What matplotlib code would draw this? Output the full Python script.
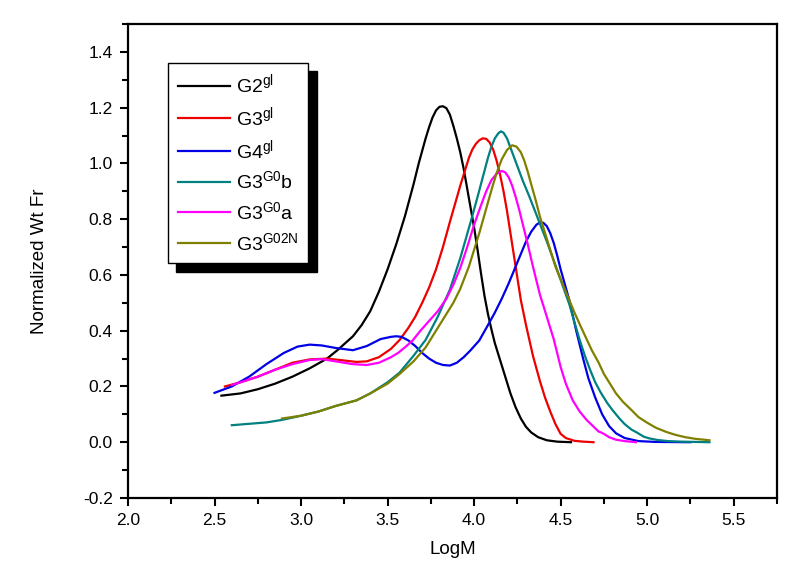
import matplotlib
matplotlib.use("Agg")
import matplotlib.pyplot as plt
from matplotlib.ticker import MultipleLocator

plt.rcParams["font.family"] = ["Liberation Sans", "DejaVu Sans"]
plt.rcParams["mathtext.fontset"] = "custom"
plt.rcParams["mathtext.rm"] = "Liberation Sans"
plt.rcParams["mathtext.default"] = "regular"
plt.rcParams["axes.unicode_minus"] = False

# ── data (LogM, normalized wt fraction) ────────────────────────────────────
g2_x = [2.54, 2.65, 2.75, 2.85, 2.95, 3.05, 3.15, 3.21, 3.30, 3.35, 3.40, 3.45,
        3.50, 3.55, 3.60, 3.65, 3.68, 3.70, 3.72, 3.74, 3.76, 3.78, 3.80, 3.82,
        3.84, 3.86, 3.88, 3.90, 3.92, 3.94, 3.96, 3.98, 4.00, 4.02, 4.04, 4.06,
        4.08, 4.10, 4.12, 4.15, 4.18, 4.21, 4.24, 4.27, 4.30, 4.33, 4.37, 4.42,
        4.48, 4.56]
g2_y = [0.167, 0.175, 0.19, 0.21, 0.235, 0.265, 0.30, 0.33, 0.38, 0.42, 0.47, 0.54,
        0.62, 0.71, 0.81, 0.925, 1.00, 1.045, 1.09, 1.13, 1.165, 1.19, 1.203, 1.205,
        1.198, 1.175, 1.135, 1.09, 1.04, 0.98, 0.91, 0.84, 0.77, 0.69, 0.605, 0.525,
        0.46, 0.405, 0.355, 0.295, 0.235, 0.175, 0.125, 0.085, 0.055, 0.035, 0.018, 0.007,
        0.002, 0.0]

g3_x = [2.56, 2.65, 2.75, 2.85, 2.95, 3.05, 3.15, 3.25, 3.32, 3.38, 3.45, 3.52,
        3.57, 3.62, 3.66, 3.70, 3.74, 3.78, 3.82, 3.86, 3.89, 3.92, 3.95, 3.97,
        3.99, 4.01, 4.03, 4.05, 4.07, 4.09, 4.11, 4.13, 4.15, 4.17, 4.19, 4.21,
        4.23, 4.25, 4.27, 4.30, 4.34, 4.38, 4.41, 4.44, 4.47, 4.50, 4.53, 4.58,
        4.63, 4.69]
g3_y = [0.20, 0.215, 0.235, 0.26, 0.285, 0.297, 0.30, 0.293, 0.288, 0.29, 0.305, 0.335,
        0.367, 0.41, 0.45, 0.50, 0.555, 0.62, 0.70, 0.79, 0.855, 0.92, 0.98, 1.02,
        1.05, 1.07, 1.083, 1.09, 1.088, 1.075, 1.05, 1.01, 0.96, 0.90, 0.83, 0.75,
        0.67, 0.59, 0.51, 0.42, 0.31, 0.22, 0.16, 0.11, 0.065, 0.03, 0.015, 0.005,
        0.002, 0.0]

g4_x = [2.50, 2.60, 2.70, 2.80, 2.90, 2.98, 3.05, 3.12, 3.20, 3.30, 3.38, 3.46,
        3.52, 3.55, 3.58, 3.62, 3.66, 3.70, 3.74, 3.78, 3.82, 3.86, 3.90, 3.94,
        3.98, 4.03, 4.08, 4.12, 4.16, 4.20, 4.23, 4.26, 4.30, 4.33, 4.36, 4.38,
        4.40, 4.42, 4.44, 4.46, 4.48, 4.50, 4.525, 4.55, 4.59, 4.63, 4.66, 4.70,
        4.74, 4.78, 4.82, 4.87, 4.95, 5.05, 5.25]
g4_y = [0.177, 0.20, 0.235, 0.28, 0.32, 0.343, 0.35, 0.347, 0.338, 0.33, 0.345, 0.37,
        0.378, 0.38, 0.378, 0.365, 0.345, 0.32, 0.30, 0.285, 0.277, 0.275, 0.285, 0.305,
        0.33, 0.365, 0.42, 0.465, 0.515, 0.57, 0.615, 0.66, 0.72, 0.755, 0.78, 0.788,
        0.787, 0.775, 0.75, 0.715, 0.67, 0.62, 0.565, 0.51, 0.40, 0.30, 0.23, 0.16,
        0.10, 0.058, 0.032, 0.015, 0.004, 0.001, 0.0]

g0b_x = [2.60, 2.70, 2.80, 2.89, 3.00, 3.10, 3.20, 3.32, 3.40, 3.50, 3.57, 3.65,
         3.72, 3.79, 3.86, 3.92, 3.98, 4.02, 4.05, 4.08, 4.10, 4.12, 4.14, 4.155,
         4.17, 4.19, 4.22, 4.25, 4.28, 4.32, 4.37, 4.42, 4.47, 4.51, 4.55, 4.58,
         4.61, 4.64, 4.67, 4.70, 4.73, 4.77, 4.80, 4.84, 4.87, 4.91, 4.94, 4.98,
         5.01, 5.06, 5.12, 5.20, 5.36]
g0b_y = [0.061, 0.066, 0.071, 0.080, 0.095, 0.11, 0.13, 0.15, 0.175, 0.215, 0.25, 0.31,
         0.367, 0.45, 0.547, 0.66, 0.79, 0.88, 0.95, 1.02, 1.06, 1.09, 1.108, 1.115,
         1.11, 1.09, 1.04, 0.99, 0.94, 0.88, 0.80, 0.72, 0.635, 0.565, 0.495, 0.43,
         0.367, 0.31, 0.26, 0.215, 0.18, 0.14, 0.115, 0.085, 0.065, 0.045, 0.035, 0.02,
         0.014, 0.008, 0.004, 0.002, 0.0]

g0a_x = [2.60, 2.75, 2.85, 2.95, 3.05, 3.12, 3.20, 3.30, 3.38, 3.45, 3.52, 3.56,
         3.60, 3.645, 3.69, 3.74, 3.79, 3.84, 3.88, 3.92, 3.96, 4.00, 4.04, 4.07,
         4.10, 4.13, 4.16, 4.18, 4.20, 4.22, 4.24, 4.26, 4.28, 4.31, 4.34, 4.38,
         4.42, 4.46, 4.50, 4.53, 4.57, 4.61, 4.65, 4.70, 4.72, 4.73, 4.75, 4.78,
         4.82, 4.87, 4.935]
g0a_y = [0.205, 0.235, 0.26, 0.28, 0.295, 0.298, 0.29, 0.28, 0.277, 0.285, 0.305, 0.32,
         0.34, 0.365, 0.40, 0.435, 0.47, 0.515, 0.565, 0.625, 0.70, 0.78, 0.85, 0.90,
         0.94, 0.963, 0.973, 0.968, 0.95, 0.92, 0.88, 0.835, 0.785, 0.71, 0.63, 0.53,
         0.45, 0.37, 0.27, 0.21, 0.15, 0.11, 0.08, 0.05, 0.038, 0.036, 0.03, 0.018,
         0.009, 0.004, 0.0]

g02n_x = [2.89, 3.00, 3.10, 3.20, 3.32, 3.40, 3.50, 3.57, 3.65, 3.72, 3.78, 3.84,
          3.88, 3.92, 3.97, 4.03, 4.08, 4.11, 4.13, 4.16, 4.19, 4.22, 4.245, 4.27,
          4.29, 4.31, 4.33, 4.355, 4.38, 4.41, 4.44, 4.47, 4.51, 4.55, 4.58, 4.62,
          4.65, 4.68, 4.72, 4.75, 4.79, 4.82, 4.86, 4.91, 4.95, 5.00, 5.05, 5.11,
          5.16, 5.22, 5.28, 5.36]
g02n_y = [0.085, 0.095, 0.11, 0.13, 0.15, 0.175, 0.21, 0.245, 0.29, 0.34, 0.40, 0.46,
          0.50, 0.55, 0.63, 0.75, 0.86, 0.925, 0.965, 1.015, 1.048, 1.065, 1.06, 1.04,
          1.01, 0.97, 0.925, 0.87, 0.81, 0.75, 0.69, 0.63, 0.57, 0.51, 0.465, 0.41,
          0.37, 0.33, 0.285, 0.245, 0.205, 0.175, 0.145, 0.115, 0.09, 0.07, 0.052, 0.037,
          0.027, 0.018, 0.012, 0.007]

series = [
    (g2_x, g2_y, "black", "G2$^{gl}$"),
    (g3_x, g3_y, "#ee0000", "G3$^{gl}$"),
    (g4_x, g4_y, "#0000e6", "G4$^{gl}$"),
    (g0b_x, g0b_y, "#008080", "G3$^{G0}$b"),
    (g0a_x, g0a_y, "#ff00ff", "G3$^{G0}$a"),
    (g02n_x, g02n_y, "#808000", "G3$^{G02N}$"),
]

fig = plt.figure(figsize=(7.92, 5.81), dpi=100)
ax = fig.add_axes([0.1616, 0.1429, 0.8194, 0.8158])

for x, y, c, lab in series:
    ax.plot(x, y, color=c, lw=1.6, label=lab, solid_joinstyle="round")

ax.set_xlim(2.0, 5.75)
ax.set_ylim(-0.2, 1.5)
ax.set_xticks([2.0, 2.5, 3.0, 3.5, 4.0, 4.5, 5.0, 5.5])
ax.set_yticks([-0.2, 0.0, 0.2, 0.4, 0.6, 0.8, 1.0, 1.2, 1.4])
ax.xaxis.set_minor_locator(MultipleLocator(0.25))
ax.yaxis.set_minor_locator(MultipleLocator(0.1))

for s in ax.spines.values():
    s.set_linewidth(1.6)
ax.tick_params(which="major", direction="out", length=6, width=1.5,
               labelsize=12.5, pad=5)
ax.tick_params(which="minor", direction="out", length=4, width=1.5)

ax.set_xlabel("LogM", fontsize=13.5, labelpad=9)
ax.set_ylabel("Normalized Wt Fr", fontsize=13.5, labelpad=25)

leg = ax.legend(loc="upper left", bbox_to_anchor=(0.0616, 0.918), borderaxespad=0,
                fontsize=14, frameon=True, fancybox=False, handlelength=2.7,
                handletextpad=0.3, labelspacing=0.45, borderpad=0.5,
                shadow={"ox": 5.8, "oy": -5.8, "facecolor": "black",
                        "edgecolor": "black", "alpha": 1})
leg.get_frame().set_edgecolor("black")
leg.get_frame().set_linewidth(1.0)
leg.get_frame().set_alpha(1)

fig.savefig("out.png", dpi=100)
